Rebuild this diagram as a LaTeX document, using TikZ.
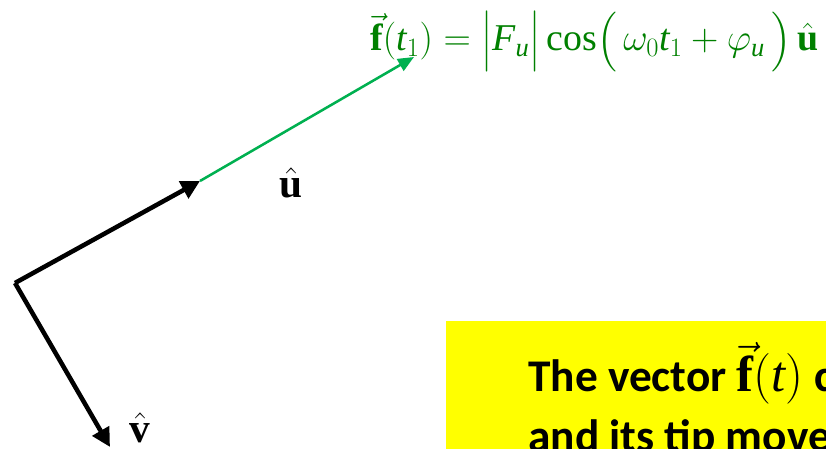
\RequirePackage{fix-cm}
\documentclass[tikz,border=0pt]{standalone}
\usepackage{amsmath}
\usepackage{fontspec}
\setmainfont{Liberation Serif}
\setsansfont{Carlito}
\usetikzlibrary{arrows.meta}
\definecolor{eqgreen}{RGB}{0,128,0}
\definecolor{arrgreen}{RGB}{0,176,80}
\definecolor{boxyellow}{RGB}{255,255,0}
\tikzset{
  blackvec/.style={line width=3.4pt,-{Triangle[length=14pt,width=14pt]}},
  greenvec/.style={arrgreen,line width=1.9pt,-{Triangle[length=12pt,width=10pt]}},
  eqtext/.style={text=eqgreen,inner sep=0pt,font=\fontsize{28.4}{32}\selectfont},
  lbl/.style={inner sep=0pt,font=\fontsize{31}{34}\selectfont},
  boxtext/.style={inner sep=0pt,anchor=base west,font=\fontsize{34}{40}\selectfont\sffamily\bfseries}
}
\begin{document}
\begin{tikzpicture}[x=0.75pt,y=-0.75pt]
\useasboundingbox (0,0) rectangle (826,449);
\clip (0,0) rectangle (826,449);
\fill[boxyellow] (446,321) rectangle (840,460);
\coordinate (O) at (15,283);
\coordinate (U) at (200,181);
\coordinate (V) at (110,447);
\coordinate (F) at (414,57);
\draw[greenvec] (U) -- (F);
\draw[blackvec] (O) -- (U);
\draw[blackvec] (O) -- (V);
\node[eqtext,anchor=base west] (eq) at (370,51)
  {$\vec{\mathbf{f}}(\mathit{t}_1)=\bigl|\mathit{F}_{\mathit{u}}\bigr|\cos\bigl(\,\omega_0 \mathit{t}_1+\varphi_{\mathit{u}}\,\bigr)\,\hat{\mathbf{u}}$};
\node[lbl,anchor=base] (ulbl) at (291,198) {$\hat{\mathbf{u}}$};
\node[lbl,anchor=base] (vlbl) at (140,443) {$\hat{\mathbf{v}}$};
\node[boxtext] (l1) at (528,392) {The vector {\rmfamily\fontsize{38}{40}\selectfont$\vec{\mathbf{f}}(\mathit{t})$} c};
\node[boxtext] (l2) at (528,451) {and its tip move};
\end{tikzpicture}
\end{document}
